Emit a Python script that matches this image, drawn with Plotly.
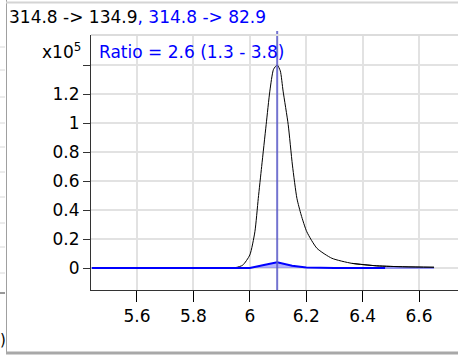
import plotly.graph_objects as go

# Retention times (minutes) and intensities (x10^5)
black_times = [5.44, 5.60, 5.80, 5.95, 5.975, 6.000, 6.018, 6.030, 6.042, 6.058, 6.071,
               6.084, 6.097, 6.108, 6.118, 6.136, 6.151, 6.167, 6.182, 6.202, 6.238,
               6.291, 6.362, 6.450, 6.550, 6.653]
black_vals = [0.0, 0.0, 0.0, 0.003, 0.02, 0.09, 0.25, 0.48, 0.70, 0.99, 1.22,
              1.37, 1.40, 1.36, 1.22, 0.99, 0.71, 0.48, 0.366, 0.25, 0.136,
              0.067, 0.032, 0.015, 0.008, 0.005]

blue_times = [5.44, 6.00, 6.05, 6.097, 6.15, 6.20, 6.30, 6.48]
blue_vals = [0.0, 0.0, 0.02, 0.039, 0.015, 0.003, 0.0, 0.0]
blue_tail_times = [6.48, 6.653]
blue_tail_vals = [0.0, 0.0]

peak_rt = 6.097

x_ticks = [5.6, 5.8, 6.0, 6.2, 6.4, 6.6]
x_labels = ["5.6", "5.8", "6", "6.2", "6.4", "6.6"]
y_ticks = [0, 0.2, 0.4, 0.6, 0.8, 1.0, 1.2]
y_labels = ["0", "0.2", "0.4", "0.6", "0.8", "1", "1.2"]
y_unlabeled_ticks = [1.4]

title_black = "314.8 -> 134.9"
title_blue = ", 314.8 -> 82.9"
ratio_text = "Ratio = 2.6 (1.3 - 3.8)"

FONT = "DejaVu Sans"
FS = 17

W, H = 458, 355
ML, MR, MT, MB = 91, 0, 35, 65
PW, PH = W - ML - MR, H - MT - MB


def px(xp):
    return (xp - ML) / PW


def py(yp):
    return (H - MB - yp) / PH


fig = go.Figure()
fig.add_trace(go.Scatter(x=black_times, y=black_vals, mode="lines",
                         line=dict(color="black", width=1, shape="spline", smoothing=0.6),
                         hoverinfo="skip"))
fig.add_trace(go.Scatter(x=blue_times, y=blue_vals, mode="lines",
                         line=dict(color="#0000ff", width=2),
                         fill="tozeroy", fillcolor="rgba(60,60,255,0.4)",
                         hoverinfo="skip"))
fig.add_trace(go.Scatter(x=blue_tail_times, y=blue_tail_vals, mode="lines",
                         line=dict(color="rgba(80,80,255,0.55)", width=2),
                         hoverinfo="skip"))
fig.add_trace(go.Scatter(x=black_times[-4:], y=black_vals[-4:], mode="lines",
                         line=dict(color="black", width=1, shape="spline", smoothing=0.6),
                         hoverinfo="skip"))

shapes = [
    # retention time marker
    dict(type="line", xref="x", yref="paper", x0=peak_rt, x1=peak_rt, y0=0, y1=py(31),
         line=dict(color="rgba(90,90,200,0.85)", width=2)),
    # top of plot frame
    dict(type="line", xref="paper", yref="paper", x0=0, x1=1, y0=1, y1=1,
         line=dict(color="#dcdcdc", width=2)),
    # panel frame
    dict(type="line", xref="paper", yref="paper", x0=px(6.5), x1=px(6.5), y0=py(353), y1=py(0),
         line=dict(color="#a0a0a0", width=1)),
    dict(type="line", xref="paper", yref="paper", x0=px(6), x1=1, y0=py(353), y1=py(353),
         line=dict(color="#a8a8a8", width=3)),
    dict(type="line", xref="paper", yref="paper", x0=px(6), x1=1, y0=py(2.5), y1=py(2.5),
         line=dict(color="#d4d4d4", width=2)),
]
# marks of the neighbouring panel at the left edge
for yy in [47, 70, 97, 123, 147, 172, 197, 223, 247, 273]:
    shapes.append(dict(type="line", xref="paper", yref="paper", x0=px(0), x1=px(5),
                       y0=py(yy), y1=py(yy), line=dict(color="#d8d8d8", width=1)))
shapes.append(dict(type="line", xref="paper", yref="paper", x0=px(0), x1=px(5),
                   y0=py(293), y1=py(293), line=dict(color="#333333", width=1)))
fig.update_layout(shapes=shapes)

annotations = [
    dict(text=title_black + f"<span style='color:#0000ff'>{title_blue}</span>",
         xref="paper", yref="paper", x=px(7), y=py(16.5), xanchor="left", yanchor="middle",
         showarrow=False, font=dict(family=FONT, size=FS, color="black")),
    dict(text="x10<sup>5</sup>", xref="paper", yref="paper", x=px(83), y=py(64),
         xanchor="right", yanchor="bottom", showarrow=False,
         font=dict(family=FONT, size=FS, color="black")),
    dict(text=ratio_text, xref="paper", yref="paper", x=px(97), y=py(52.5),
         xanchor="left", yanchor="middle", showarrow=False,
         font=dict(family=FONT, size=FS, color="#0000ff")),
    dict(text=")", xref="paper", yref="paper", x=px(-1), y=py(340),
         xanchor="left", yanchor="middle", showarrow=False, borderpad=0,
         font=dict(family=FONT, size=FS - 2, color="black")),
]
fig.update_layout(annotations=annotations)

fig.update_layout(
    width=W, height=H,
    margin=dict(l=ML, r=MR, t=MT, b=MB),
    paper_bgcolor="white", plot_bgcolor="white",
    showlegend=False,
    xaxis=dict(range=[5.437, 6.738], tickvals=x_ticks, ticktext=x_labels,
               showgrid=True, gridcolor="#e2e2e2", gridwidth=2,
               showline=True, linecolor="#333333", linewidth=1,
               ticks="outside", ticklen=11, tickcolor="black", tickwidth=1,
               zeroline=False, automargin=False,
               tickfont=dict(family=FONT, size=FS, color="black")),
    yaxis=dict(range=[-0.1517, 1.607], tickvals=y_ticks, ticktext=y_labels,
               showgrid=True, gridcolor="#e2e2e2", gridwidth=2,
               showline=True, linecolor="#333333", linewidth=1,
               ticks="outside", ticklen=7, tickcolor="#333333", tickwidth=1,
               zeroline=False, automargin=False,
               minor=dict(tickmode="array", tickvals=y_unlabeled_ticks, ticks="outside",
                          ticklen=7, tickcolor="#333333", tickwidth=1,
                          showgrid=True, gridcolor="#e2e2e2", gridwidth=2),
               tickfont=dict(family=FONT, size=FS, color="black")),
)

fig.write_html("out.html", config={"displayModeBar": False},
               post_script="document.body.style.margin='0px';")
